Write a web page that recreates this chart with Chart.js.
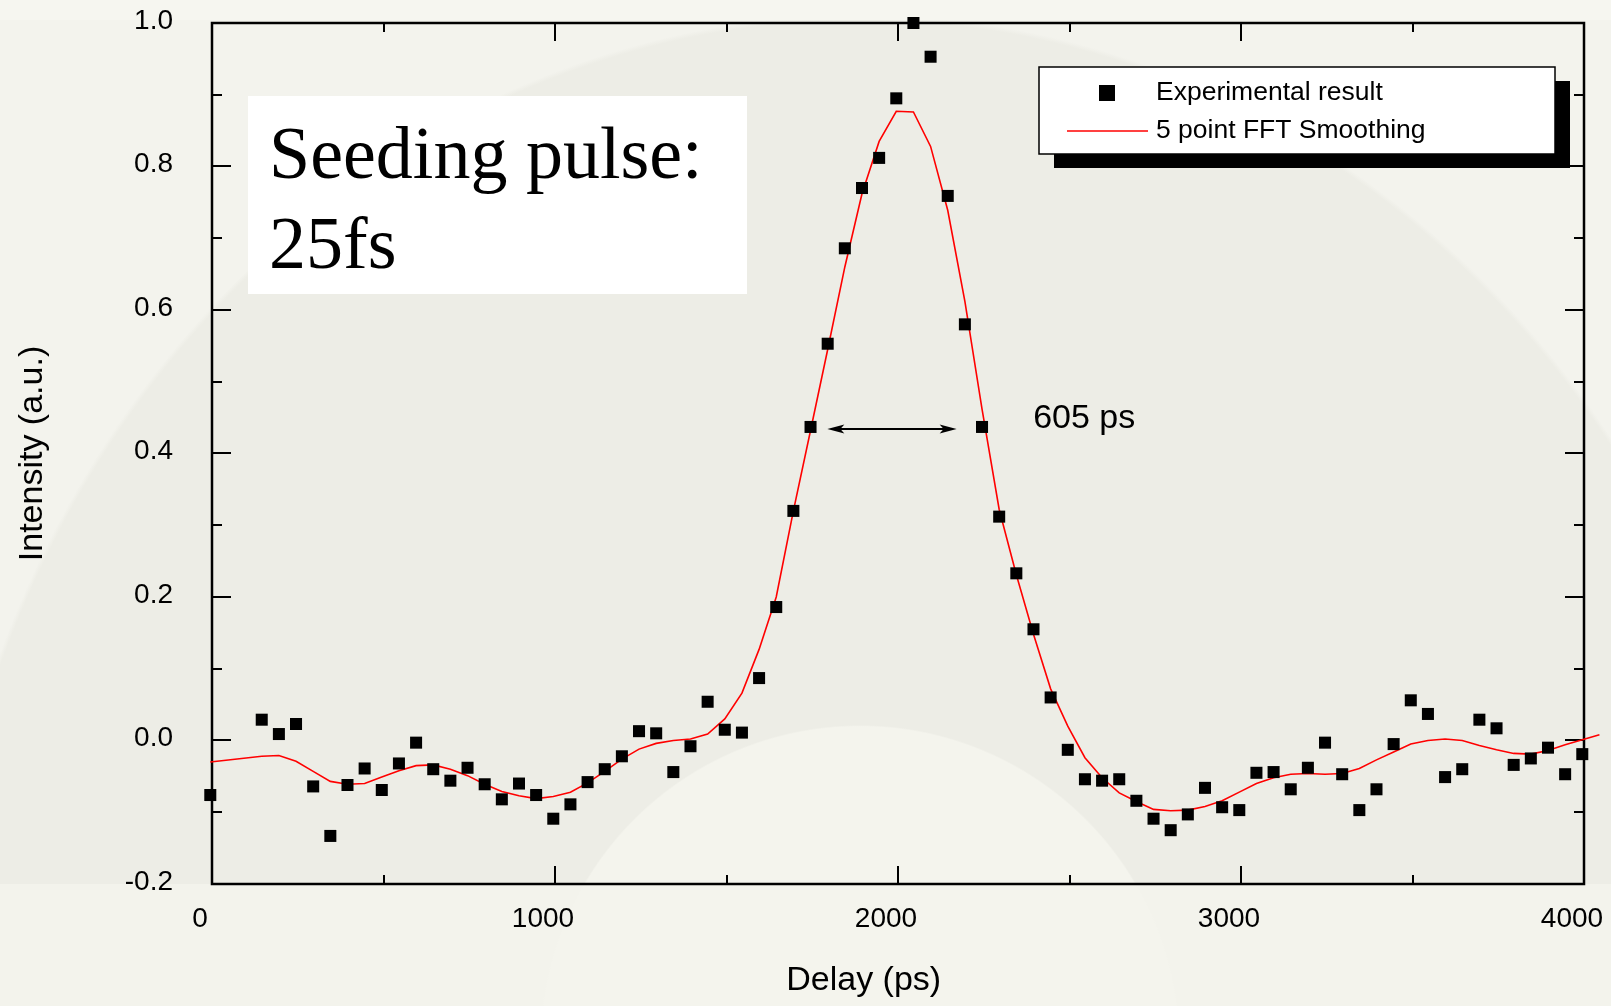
<!DOCTYPE html>
<html><head><meta charset="utf-8">
<script src="https://cdn.jsdelivr.net/npm/chart.js@4.4.1/dist/chart.umd.min.js"></script>
<style>
html,body{margin:0;padding:0;}
body{width:1611px;height:1006px;overflow:hidden;
background:
 radial-gradient(circle 320px at 860px 1045px, #f4f4ed 99.5%, rgba(0,0,0,0) 100%),
 linear-gradient(to bottom, rgba(0,0,0,0) 0px, rgba(0,0,0,0) 884px, #f3f3ec 884px),
 linear-gradient(to bottom, #f6f6f0 0px, #f6f6f0 20px, rgba(0,0,0,0) 20px),
 radial-gradient(ellipse 930px 1030px at 860px 1045px, #edede6 99.5%, rgba(0,0,0,0) 100%),
 #f3f3ed;}
canvas{display:block}
</style></head><body>
<canvas id="c" width="1611" height="1006"></canvas>
<script>
// ---- data ----
const delays = [-5, 145, 195, 245, 295, 345, 395, 445, 495, 545, 595, 645, 695, 745, 795, 845, 895, 945, 995, 1045,
  1095, 1145, 1195, 1245, 1295, 1345, 1395, 1445, 1495, 1545, 1595, 1645, 1695, 1745, 1795, 1845, 1895, 1945, 1995, 2045,
  2095, 2145, 2195, 2245, 2295, 2345, 2395, 2445, 2495, 2545, 2595, 2645, 2695, 2745, 2795, 2845, 2895, 2945, 2995, 3045,
  3095, 3145, 3195, 3245, 3295, 3345, 3395, 3445, 3495, 3545, 3595, 3645, 3695, 3745, 3795, 3845, 3895, 3945, 3995, 4045];
const experimental = [-0.076, 0.029, 0.009, 0.023, -0.064, -0.133, -0.062, -0.039, -0.069, -0.032, -0.003, -0.040, -0.056, -0.038, -0.061, -0.082, -0.060, -0.076, -0.109, -0.089,
  -0.058, -0.040, -0.022, 0.013, 0.010, -0.044, -0.008, 0.054, 0.015, 0.011, 0.087, 0.186, 0.320, 0.437, 0.553, 0.686, 0.770, 0.812, 0.895, 1.000,
  0.953, 0.759, 0.580, 0.437, 0.312, 0.233, 0.155, 0.060, -0.013, -0.054, -0.056, -0.054, -0.084, -0.109, -0.125, -0.103, -0.066, -0.093, -0.097, -0.045,
  -0.044, -0.068, -0.038, -0.003, -0.047, -0.097, -0.068, -0.005, 0.056, 0.037, -0.051, -0.040, 0.029, 0.017, -0.034, -0.025, -0.010, -0.047, -0.019, 0.053];
const smoothed = [-0.030, -0.022, -0.021, -0.029, -0.043, -0.057, -0.061, -0.060, -0.051, -0.042, -0.035, -0.034, -0.040, -0.049, -0.061, -0.071, -0.077, -0.081, -0.078, -0.072,
  -0.059, -0.043, -0.026, -0.012, -0.004, 0.000, 0.002, 0.009, 0.030, 0.066, 0.127, 0.200, 0.320, 0.432, 0.545, 0.660, 0.762, 0.835, 0.877, 0.876,
  0.828, 0.739, 0.612, 0.462, 0.322, 0.231, 0.148, 0.072, 0.020, -0.024, -0.052, -0.073, -0.085, -0.096, -0.098, -0.097, -0.092, -0.084, -0.072, -0.060,
  -0.052, -0.047, -0.046, -0.047, -0.046, -0.039, -0.027, -0.016, -0.005, 0.000, 0.002, 0.000, -0.007, -0.013, -0.018, -0.019, -0.014, -0.006, 0.001, 0.008];
const seriesNames = ['Experimental result', '5 point FFT Smoothing'];
const xMajorTicks = [0, 1000, 2000, 3000, 4000];
const xMinorTicks = [500, 1500, 2500, 3500];
const xTickLabels = ['0', '1000', '2000', '3000', '4000'];
const yMajorTicks = [-0.2, 0, 0.2, 0.4, 0.6, 0.8, 1.0];
const yMinorTicks = [-0.1, 0.1, 0.3, 0.5, 0.7, 0.9];
const yTickLabels = ['-0.2', '0.0', '0.2', '0.4', '0.6', '0.8', '1.0'];
const axisTitles = ['Delay (ps)', 'Intensity (a.u.)'];
const noteLines = ['Seeding pulse:', '25fs'];
const fwhmText = '605 ps';
const fwhmEnds = [1794, 2171];
const fwhmLevel = [0.434];

// ---- drawing ----
Chart.defaults.font.family = "'Liberation Sans', Arial, sans-serif";
Chart.defaults.color = '#000';

const framePlugin = {
  id: 'frame',
  beforeDatasetsDraw(chart) {
    const {ctx, chartArea: a, scales: {x, y}} = chart;
    ctx.save();
    ctx.strokeStyle = '#000';
    ctx.lineCap = 'butt';
    ctx.lineWidth = 2;
    const tick = (vals, len, isX) => {
      vals.forEach(v => {
        ctx.beginPath();
        if (isX) {
          const px = Math.round(x.getPixelForValue(v));
          ctx.moveTo(px, a.bottom); ctx.lineTo(px, a.bottom - len);
          ctx.moveTo(px, a.top); ctx.lineTo(px, a.top + len);
        } else {
          const py = Math.round(y.getPixelForValue(v));
          ctx.moveTo(a.left, py); ctx.lineTo(a.left + len, py);
          ctx.moveTo(a.right, py); ctx.lineTo(a.right - len, py);
        }
        ctx.stroke();
      });
    };
    tick(xMajorTicks, 18, true);
    tick(xMinorTicks, 9, true);
    tick(yMajorTicks, 19, false);
    tick(yMinorTicks, 10, false);
    ctx.lineWidth = 2.5;
    ctx.strokeRect(a.left, a.top, a.right - a.left, a.bottom - a.top);
    ctx.restore();
  }
};

const notePlugin = {
  id: 'notes',
  afterDatasetsDraw(chart) {
    const {ctx, chartArea: a, scales: {x, y}} = chart;
    const ds = chart.data.datasets;
    ctx.save();
    // seeding-pulse box
    const bx = a.left + 36, by = a.top + 73, bw = 499, bh = 198;
    ctx.fillStyle = '#ffffff';
    ctx.fillRect(bx, by, bw, bh);
    ctx.fillStyle = '#000';
    ctx.font = "74px 'Liberation Serif', 'Times New Roman', serif";
    ctx.textAlign = 'left';
    ctx.textBaseline = 'alphabetic';
    ctx.fillText(noteLines[0], bx + 21, by + 82);
    ctx.fillText(noteLines[1], bx + 21, by + 172);

    // FWHM arrow
    const ya = Math.round(y.getPixelForValue(fwhmLevel[0]));
    const x1 = x.getPixelForValue(fwhmEnds[0]), x2 = x.getPixelForValue(fwhmEnds[1]);
    const hl = 17, hw = 4.5;
    ctx.strokeStyle = '#000';
    ctx.lineWidth = 2;
    ctx.beginPath(); ctx.moveTo(x1 + 6, ya); ctx.lineTo(x2 - 6, ya); ctx.stroke();
    ctx.beginPath();
    ctx.moveTo(x1, ya); ctx.lineTo(x1 + hl, ya - hw); ctx.lineTo(x1 + hl - 4, ya); ctx.lineTo(x1 + hl, ya + hw); ctx.closePath();
    ctx.moveTo(x2, ya); ctx.lineTo(x2 - hl, ya - hw); ctx.lineTo(x2 - hl + 4, ya); ctx.lineTo(x2 - hl, ya + hw); ctx.closePath();
    ctx.fill();
    ctx.font = "34px 'Liberation Sans', Arial, sans-serif";
    ctx.textBaseline = 'middle';
    ctx.fillText(fwhmText, x.getPixelForValue(2394), y.getPixelForValue(0.451) + 2);

    // legend
    const lx = a.right - 545, ly = a.top + 44, lw = 516, lh = 87;
    ctx.fillStyle = '#000';
    ctx.fillRect(lx + 15, ly + 14, lw, lh);
    ctx.fillStyle = '#fff';
    ctx.fillRect(lx, ly, lw, lh);
    ctx.lineWidth = 1.5;
    ctx.strokeStyle = '#000';
    ctx.strokeRect(lx, ly, lw, lh);
    ctx.fillStyle = ds[0].backgroundColor;
    ctx.fillRect(lx + 60, ly + 18, 16, 16);
    ctx.strokeStyle = ds[1].borderColor;
    ctx.lineWidth = 1.6;
    ctx.beginPath(); ctx.moveTo(lx + 28, ly + 64); ctx.lineTo(lx + 109, ly + 64); ctx.stroke();
    ctx.fillStyle = '#000';
    ctx.font = "26.5px 'Liberation Sans', Arial, sans-serif";
    ctx.textBaseline = 'middle';
    ctx.fillText(ds[0].label, lx + 117, ly + 26);
    ctx.fillText(ds[1].label, lx + 117, ly + 64);

    // x axis title
    ctx.font = "34px 'Liberation Sans', Arial, sans-serif";
    ctx.textAlign = 'center';
    ctx.fillText(axisTitles[0], x.getPixelForValue(1900), 981);
    ctx.restore();
  }
};

new Chart(document.getElementById('c'), {
  type: 'scatter',
  data: {
    datasets: [
      { label: seriesNames[0], data: delays.map((d, i) => ({x: d, y: experimental[i]})),
        pointStyle: 'rect', pointRadius: 8.5, pointHoverRadius: 8.5, backgroundColor: '#000000',
        borderWidth: 0, clip: false },
      { label: seriesNames[1], data: delays.map((d, i) => ({x: d, y: smoothed[i]})),
        showLine: true, borderColor: '#ff0000', backgroundColor: '#ff0000', borderWidth: 1.6,
        pointRadius: 0, pointHoverRadius: 0, tension: 0, fill: false, clip: false }
    ]
  },
  options: {
    responsive: false, animation: false, devicePixelRatio: 1, events: [],
    layout: { padding: {left: 0, top: 23, right: 27, bottom: 0}, autoPadding: false },
    plugins: { legend: {display: false}, tooltip: {enabled: false} },
    scales: {
      x: {
        type: 'linear', min: 0, max: 4000,
        grid: {display: false, drawTicks: false}, border: {display: false},
        afterBuildTicks: s => { s.ticks = xMajorTicks.map(v => ({value: v})); },
        ticks: { callback: (v, i) => xTickLabels[i], font: {size: 28}, padding: 18, labelOffset: -12,
                 maxRotation: 0, autoSkip: false, color: '#000' },
        title: { display: false },
        afterFit: s => { s.height = 122; s.paddingLeft = 0; s.paddingRight = 0; }
      },
      y: {
        type: 'linear', min: -0.2, max: 1.0,
        grid: {display: false, drawTicks: false}, border: {display: false},
        afterBuildTicks: s => { s.ticks = yMajorTicks.map(v => ({value: v})); },
        ticks: { callback: (v, i) => yTickLabels[i], font: {size: 28}, padding: 39, labelOffset: -2,
                 autoSkip: false, color: '#000' },
        title: { display: true, text: axisTitles[1], font: {size: 34}, padding: {top: 12, bottom: 0}, color: '#000' },
        afterFit: s => { s.width = 212; s.paddingTop = 0; s.paddingBottom = 0; }
      }
    }
  },
  plugins: [framePlugin, notePlugin]
});
</script></body></html>
